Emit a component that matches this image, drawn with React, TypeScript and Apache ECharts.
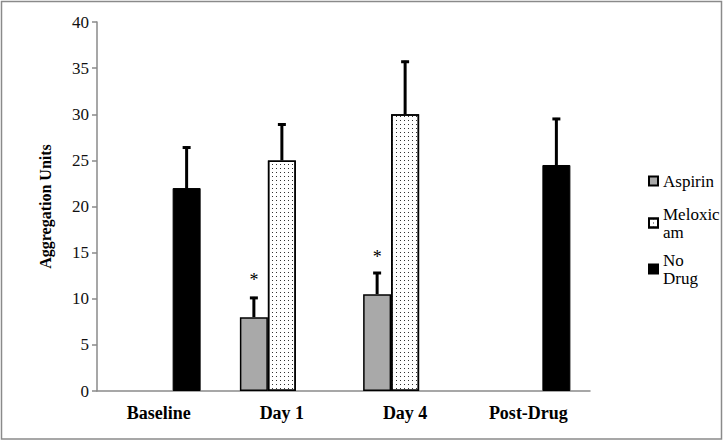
import React, { useEffect, useRef } from "react";
import * as echarts from "echarts";

const categories = ["Baseline", "Day 1", "Day 4", "Post-Drug"];
const aspirin = [null, 8, 10.5, null];
const aspirinErr = [null, 2.2, 2.4, null];
const meloxicam = [null, 25, 30, null];
const meloxicamErr = [null, 4, 5.8, null];
const noDrug = [22, null, null, 24.5];
const noDrugErr = [4.5, null, null, 5.1];
const significance = ["", "*", "*", ""];

const yTicks = { min: 0, max: 40, interval: 5 };

const FONT = "Liberation Serif";
const BAR_W = 28;

function errData(values: (number | null)[], errs: (number | null)[]) {
  const out: any[] = [];
  values.forEach((v, i) => {
    if (v != null && errs[i] != null) out.push([i, v, errs[i]]);
  });
  return out;
}

function errSeries(name: string, values: (number | null)[], errs: (number | null)[], offset: number) {
  return {
    type: "custom",
    name: name + "-err",
    silent: true,
    z: 5,
    data: errData(values, errs),
    renderItem: (params: any, api: any) => {
      const i = api.value(0);
      const v = api.value(1);
      const e = api.value(2);
      const base = api.coord([i, v]);
      const top = api.coord([i, v + e]);
      const x = base[0] + offset;
      return {
        type: "group",
        children: [
          {
            type: "line",
            shape: { x1: x, y1: base[1], x2: x, y2: top[1] },
            style: { stroke: "#000", lineWidth: 3 },
          },
          {
            type: "line",
            shape: { x1: x - 4, y1: top[1] + 1, x2: x + 4, y2: top[1] + 1 },
            style: { stroke: "#000", lineWidth: 3 },
          },
        ],
      };
    },
  };
}

export default function App() {
  const ref = useRef<HTMLDivElement>(null);
  useEffect(() => {
    const chart = echarts.init(ref.current!, null, { renderer: "svg" });
    const legendCommon = {
      orient: "vertical",
      left: 643,
      itemWidth: 9,
      itemHeight: 9,
      icon: "rect",
      selectedMode: false,
      textStyle: { fontFamily: FONT, fontSize: 17, color: "#000", lineHeight: 18 },
    };
    chart.setOption({
      animation: false,
      backgroundColor: "#fff",
      textStyle: { fontFamily: FONT },
      graphic: [
        {
          type: "rect",
          shape: { x: 1.5, y: 1.5, width: 720, height: 437.5 },
          style: { fill: "none", stroke: "#8a8a8a", lineWidth: 1.5 },
          silent: true,
        },
      ],
      grid: { left: 97, right: 136, top: 22, bottom: 52 },
      legend: [
        {
          ...legendCommon,
          top: 167,
          data: ["Aspirin"],
        },
        {
          ...legendCommon,
          top: 191,
          data: ["Meloxicam"],
          formatter: () => "Meloxic\nam",
          textStyle: { ...legendCommon.textStyle, padding: [18, 0, 0, 0] },
        },
        {
          ...legendCommon,
          top: 237,
          data: ["No Drug"],
          formatter: () => "No\nDrug",
          textStyle: { ...legendCommon.textStyle, padding: [18, 0, 0, 0] },
        },
      ],
      xAxis: {
        type: "category",
        data: categories,
        axisLine: { lineStyle: { color: "#8a8a8a", width: 1.5 } },
        axisTick: { show: false },
        axisLabel: {
          fontFamily: FONT,
          fontWeight: "bold",
          fontSize: 18,
          color: "#000",
          margin: 13,
        },
      },
      yAxis: {
        type: "value",
        min: yTicks.min,
        max: yTicks.max,
        interval: yTicks.interval,
        name: "Aggregation Units",
        nameLocation: "middle",
        nameGap: 44,
        nameTextStyle: { fontFamily: FONT, fontWeight: "bold", fontSize: 16, color: "#000" },
        splitLine: { show: false },
        axisLine: { show: true, lineStyle: { color: "#8a8a8a", width: 1.5 } },
        axisTick: { show: true, length: 5, lineStyle: { color: "#8a8a8a", width: 1.5 } },
        axisLabel: { fontFamily: FONT, fontSize: 17, color: "#111", margin: 8 },
      },
      series: [
        {
          type: "bar",
          name: "Aspirin",
          data: aspirin,
          barWidth: BAR_W,
          barGap: "0%",
          itemStyle: { color: "#a9a9a9", borderColor: "#000", borderWidth: 1.5 },
          label: {
            show: true,
            position: "top",
            distance: 28,
            fontFamily: FONT,
            fontSize: 18,
            color: "#000",
            formatter: (p: any) => significance[p.dataIndex],
          },
        },
        {
          type: "bar",
          name: "Meloxicam",
          data: meloxicam,
          barWidth: BAR_W,
          barGap: "0%",
          itemStyle: {
            color: "#fff",
            borderColor: "#000",
            borderWidth: 1.5,
            decal: {
              symbol: "rect",
              symbolSize: 1,
              dashArrayX: [1, 3],
              dashArrayY: [1, 3],
              color: "#333",
              backgroundColor: "#fff",
              rotation: 0,
            },
          },
        },
        {
          type: "bar",
          name: "No Drug",
          data: noDrug,
          barWidth: BAR_W,
          barGap: "0%",
          itemStyle: { color: "#000", borderColor: "#000", borderWidth: 1 },
        },
        errSeries("Aspirin", aspirin, aspirinErr, -BAR_W),
        errSeries("Meloxicam", meloxicam, meloxicamErr, 0),
        errSeries("No Drug", noDrug, noDrugErr, BAR_W),
      ],
    });
    return () => chart.dispose();
  }, []);
  return (
    <div
      ref={ref}
      style={{ position: "absolute", left: 0, top: 0, width: 726, height: 443 }}
    />
  );
}
